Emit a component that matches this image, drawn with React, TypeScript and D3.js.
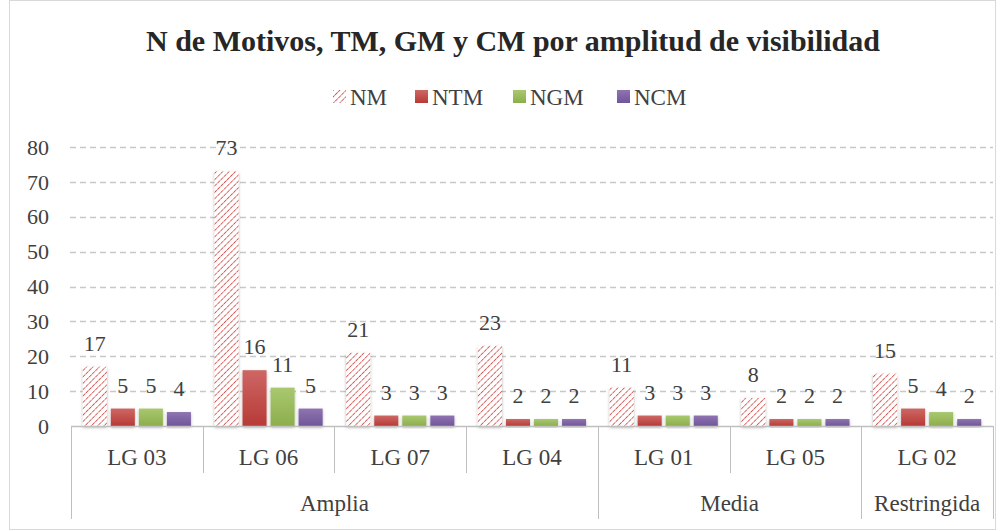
import React, { useEffect, useRef } from 'react';
import * as d3 from 'd3';

// chart data
const categories = ['LG 03', 'LG 06', 'LG 07', 'LG 04', 'LG 01', 'LG 05', 'LG 02'];
const groups = [
  { name: 'Amplia', count: 4 },
  { name: 'Media', count: 2 },
  { name: 'Restringida', count: 1 },
];
const seriesNames = ['NM', 'NTM', 'NGM', 'NCM'];
const nm = [17, 73, 21, 23, 11, 8, 15];
const ntm = [5, 16, 3, 2, 3, 2, 5];
const ngm = [5, 11, 3, 2, 3, 2, 4];
const ncm = [4, 5, 3, 2, 3, 2, 2];
const yTicks = [0, 10, 20, 30, 40, 50, 60, 70, 80];

const FONT = "'Liberation Serif', 'Times New Roman', 'DejaVu Serif', serif";

const App = () => {
  const svgRef = useRef<SVGSVGElement>(null);

  useEffect(() => {
    document.body.style.margin = '0';
    const width = 1000;
    const height = 531;
    const margin = { top: 147, right: 7, bottom: 105, left: 71 };

    const svg = d3.select(svgRef.current);
    svg.selectAll('*').remove();
    svg.attr('width', width).attr('height', height).style('display', 'block');

    const values = [nm, ntm, ngm, ncm];
    const data = categories.map((c, i) => ({
      cat: c,
      vals: seriesNames.map((s, j) => ({ key: s, value: values[j][i] })),
    }));

    // defs: hatch pattern, gradients, shadow
    const defs = svg.append('defs');
    const pat = defs.append('pattern')
      .attr('id', 'hatch')
      .attr('patternUnits', 'userSpaceOnUse')
      .attr('width', 4.5)
      .attr('height', 4.5)
      .attr('patternTransform', 'rotate(45)');
    pat.append('rect').attr('width', 4.5).attr('height', 4.5).attr('fill', '#fff');
    pat.append('line')
      .attr('x1', 0).attr('y1', 0).attr('x2', 0).attr('y2', 4.5)
      .attr('stroke', '#d2413d').attr('stroke-width', 1.6)
      .attr('stroke-dasharray', '2.2 0.8');

    const grads = [
      { id: 'gNTM', top: '#cd6764', bottom: '#b83a37' },
      { id: 'gNGM', top: '#a9c86f', bottom: '#8cae4c' },
      { id: 'gNCM', top: '#8f74b0', bottom: '#70559a' },
    ];
    grads.forEach(g => {
      const lg = defs.append('linearGradient')
        .attr('id', g.id).attr('x1', 0).attr('y1', 0).attr('x2', 0).attr('y2', 1);
      lg.append('stop').attr('offset', '0%').attr('stop-color', g.top);
      lg.append('stop').attr('offset', '100%').attr('stop-color', g.bottom);
    });
    const fills: Record<string, string> = {
      NM: 'url(#hatch)', NTM: 'url(#gNTM)', NGM: 'url(#gNGM)', NCM: 'url(#gNCM)',
    };

    const shadow = defs.append('filter').attr('id', 'shadow')
      .attr('x', '-30%').attr('y', '-10%').attr('width', '160%').attr('height', '130%');
    shadow.append('feDropShadow')
      .attr('dx', 0).attr('dy', 1.5).attr('stdDeviation', 1.5)
      .attr('flood-color', '#000').attr('flood-opacity', 0.3);

    // outer border
    svg.append('rect')
      .attr('x', 9.5).attr('y', 0.5)
      .attr('width', 986).attr('height', 529)
      .attr('fill', '#fff').attr('stroke', '#d9d9d9').attr('stroke-width', 1);

    // scales
    const x0 = d3.scaleBand()
      .domain(categories)
      .range([margin.left, width - margin.right])
      .padding(0);
    const x1 = d3.scaleBand()
      .domain(seriesNames)
      .range([0, x0.bandwidth()])
      .paddingInner(0.143)
      .paddingOuter(0.42);
    const y = d3.scaleLinear()
      .domain([0, 80])
      .range([height - margin.bottom, margin.top]);

    // gridlines
    svg.append('g')
      .selectAll('line')
      .data(yTicks.filter(d => d > 0))
      .join('line')
      .attr('x1', margin.left - 1)
      .attr('x2', width - margin.right)
      .attr('y1', d => Math.round(y(d)) + 0.5)
      .attr('y2', d => Math.round(y(d)) + 0.5)
      .attr('stroke', '#c8c8c8')
      .attr('stroke-width', 1.3)
      .attr('stroke-dasharray', '6 4');

    // y tick labels
    svg.append('g')
      .selectAll('text')
      .data(yTicks)
      .join('text')
      .attr('x', 49)
      .attr('y', d => y(d))
      .attr('dy', '0.35em')
      .attr('text-anchor', 'end')
      .style('font-family', FONT)
      .style('font-size', '22px')
      .style('fill', '#404040')
      .text(d => d);

    // bars
    const catG = svg.append('g')
      .selectAll('g')
      .data(data)
      .join('g')
      .attr('transform', d => `translate(${x0(d.cat)},0)`);

    catG.selectAll('rect')
      .data(d => d.vals)
      .join('rect')
      .attr('x', d => x1(d.key)!)
      .attr('y', d => y(d.value))
      .attr('width', x1.bandwidth())
      .attr('height', d => y(0) - y(d.value))
      .attr('fill', d => fills[d.key])
      .attr('filter', 'url(#shadow)');

    // value labels
    catG.selectAll('text')
      .data(d => d.vals)
      .join('text')
      .attr('x', d => x1(d.key)! + x1.bandwidth() / 2)
      .attr('y', d => y(d.value) - 16)
      .attr('text-anchor', 'middle')
      .style('font-family', FONT)
      .style('font-size', '22px')
      .style('fill', '#404040')
      .text(d => d.value);

    // x axis line
    svg.append('line')
      .attr('x1', margin.left).attr('x2', width - margin.right)
      .attr('y1', y(0) + 0.5).attr('y2', y(0) + 0.5)
      .attr('stroke', '#bfbfbf').attr('stroke-width', 1.5);

    // category separators and labels
    const groupEdges = new Set<number>();
    let acc = 0;
    groupEdges.add(0);
    groups.forEach(g => { acc += g.count; groupEdges.add(acc); });

    const sepAt = d3.range(categories.length + 1);
    svg.append('g')
      .selectAll('line')
      .data(sepAt)
      .join('line')
      .attr('x1', i => Math.round(margin.left + i * x0.step()) + 0.5)
      .attr('x2', i => Math.round(margin.left + i * x0.step()) + 0.5)
      .attr('y1', y(0))
      .attr('y2', i => (groupEdges.has(i) ? 519 : 473))
      .attr('stroke', '#bfbfbf')
      .attr('stroke-width', 1);

    svg.append('g')
      .selectAll('text')
      .data(categories)
      .join('text')
      .attr('x', d => x0(d)! + x0.bandwidth() / 2)
      .attr('y', 465)
      .attr('text-anchor', 'middle')
      .style('font-family', FONT)
      .style('font-size', '23px')
      .style('fill', '#404040')
      .text(d => d);

    let start = 0;
    groups.forEach(g => {
      const xs = margin.left + start * x0.step();
      const xe = margin.left + (start + g.count) * x0.step();
      svg.append('text')
        .attr('x', (xs + xe) / 2)
        .attr('y', 511)
        .attr('text-anchor', 'middle')
        .style('font-family', FONT)
        .style('font-size', '23px')
        .style('fill', '#404040')
        .text(g.name);
      start += g.count;
    });

    // title
    svg.append('text')
      .attr('x', 513)
      .attr('y', 51)
      .attr('text-anchor', 'middle')
      .style('font-family', FONT)
      .style('font-size', '30px')
      .style('font-weight', 'bold')
      .style('fill', '#262626')
      .text('N de Motivos, TM, GM y CM por amplitud de visibilidad');

    // legend
    const legendX = [333, 415, 513, 617];
    const legend = svg.append('g')
      .selectAll('g')
      .data(seriesNames)
      .join('g')
      .attr('transform', (d, i) => `translate(${legendX[i]},90)`);
    legend.append('rect')
      .attr('width', 13).attr('height', 13)
      .attr('fill', d => fills[d]);
    legend.append('text')
      .attr('x', 17)
      .attr('y', 7)
      .attr('dy', '0.35em')
      .style('font-family', FONT)
      .style('font-size', '23px')
      .style('fill', '#404040')
      .text(d => d);
  }, []);

  return <svg ref={svgRef}></svg>;
};

export default App;
